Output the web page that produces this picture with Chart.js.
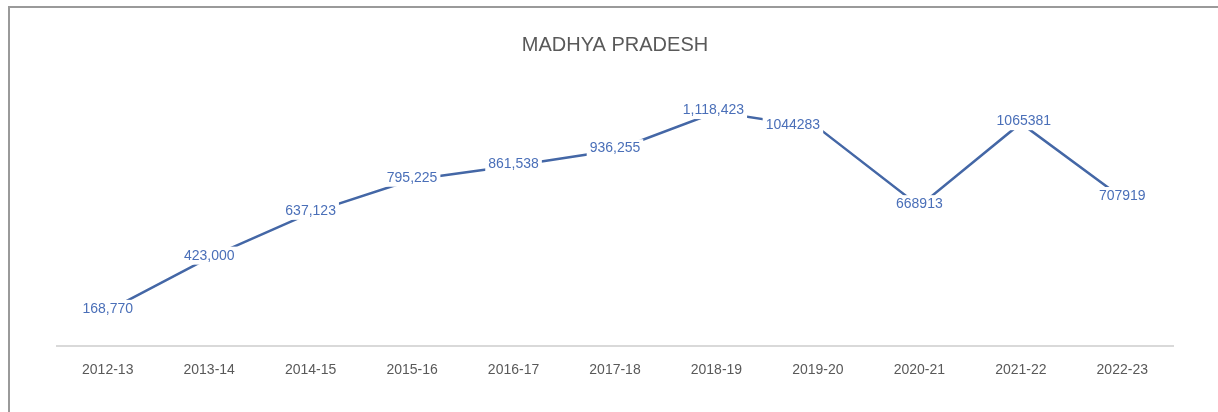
<!DOCTYPE html>
<html>
<head>
<meta charset="utf-8">
<script src="https://cdn.jsdelivr.net/npm/chart.js@4"></script>
<style>
    html, body {
        margin: 0;
        padding: 0;
        background: #ffffff;
        overflow: hidden;
    }
    #wrap {
        position: relative;
        width: 1218px;
        height: 412px;
    }
    #frame {
        position: absolute;
        left: 8px;
        top: 6px;
        width: 1300px;
        height: 500px;
        border-left: 2px solid #9a9a9a;
        border-top: 2px solid #9a9a9a;
        pointer-events: none;
    }
</style>
</head>
<body>
<div id="wrap">
    <canvas id="mpChart" width="1218" height="412"></canvas>
    <div id="frame"></div>
</div>
<script>
const years = [
    "2012-13", "2013-14", "2014-15", "2015-16", "2016-17", "2017-18",
    "2018-19", "2019-20", "2020-21", "2021-22", "2022-23"
];

const enrolment = [
    168770, 423000, 637123, 795225, 861538, 936255,
    1118423, 1044283, 668913, 1065381, 707919
];

// labels as printed in the original (later years have no separators)
const pointLabels = [
    "168,770", "423,000", "637,123", "795,225", "861,538", "936,255",
    "1,118,423", "1044283", "668913", "1065381", "707919"
];

const yMin = 0;
const yMax = 1200000;

const lineColor = "#4467a6";
const labelColor = "#4a6fb8";
const textGrey = "#595959";

// draws the value labels on white boxes, centered on each point
const valueLabels = {
    id: "valueLabels",
    afterDatasetsDraw(chart, args, opts) {
        const ctx = chart.ctx;
        const meta = chart.getDatasetMeta(0);

        ctx.save();
        ctx.font = "14px 'Liberation Sans', Arial, sans-serif";
        ctx.textAlign = "center";
        ctx.textBaseline = "middle";

        meta.data.forEach((pt, i) => {
            const text = pointLabels[i];
            const x = pt.x + (opts.shift[i] || 0);
            const y = pt.y - 2;
            const w = ctx.measureText(text).width + 6;

            ctx.fillStyle = "#ffffff";
            ctx.fillRect(x - w / 2, y - 9, w, 18);

            ctx.fillStyle = labelColor;
            ctx.fillText(text, x, y);
        });

        ctx.restore();
    }
};

new Chart(document.getElementById("mpChart"), {
    type: "line",
    data: {
        labels: years,
        datasets: [{
            data: enrolment,
            borderColor: lineColor,
            borderWidth: 2.5,
            pointRadius: 0,
            tension: 0,
            fill: false
        }]
    },
    options: {
        responsive: false,
        animation: false,
        layout: {
            padding: {
                left: 57,
                right: 45,
                top: 0,
                bottom: 25
            }
        },
        plugins: {
            legend: {
                display: false
            },
            tooltip: {
                enabled: false
            },
            title: {
                display: true,
                text: "MADHYA PRADESH",
                color: textGrey,
                font: {
                    family: "'Liberation Sans', Arial, sans-serif",
                    size: 20,
                    weight: "normal"
                },
                padding: {
                    top: 33,
                    bottom: 38
                }
            },
            valueLabels: {
                shift: [0, 0, 0, 0, 0, 0, -3, -25, 0, 3, 0]
            }
        },
        scales: {
            x: {
                offset: true,
                grid: {
                    display: false
                },
                border: {
                    display: true,
                    color: "#d9d9d9",
                    width: 2
                },
                ticks: {
                    color: textGrey,
                    padding: 8,
                    maxRotation: 0,
                    font: {
                        family: "'Liberation Sans', Arial, sans-serif",
                        size: 14
                    }
                }
            },
            y: {
                display: false,
                min: yMin,
                max: yMax
            }
        }
    },
    plugins: [valueLabels]
});
</script>
</body>
</html>
